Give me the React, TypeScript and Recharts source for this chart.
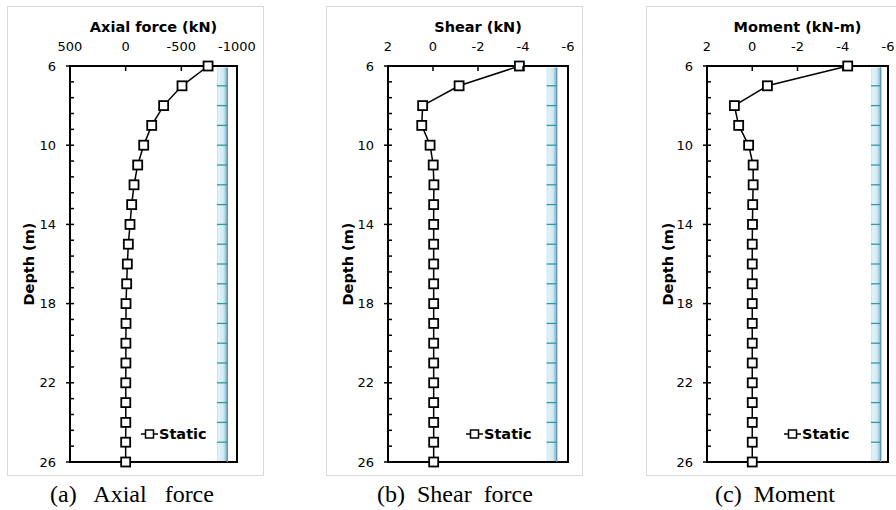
import React from 'react';
import { ComposedChart, Scatter, XAxis, YAxis, ReferenceArea, ReferenceLine, Legend } from 'recharts';

// ---------- data ----------
const depths = [6, 7, 8, 9, 10, 11, 12, 13, 14, 15, 16, 17, 18, 19, 20, 21, 22, 23, 24, 25, 26];
const axialForce = [-740, -506, -341, -234, -162, -108, -75, -54, -39, -24, -15, -9, -3, -3, -2, -2, -1, -1, -1, 0, 0];
const shearForce = [-3.84, -1.16, 0.46, 0.5, 0.13, -0.01, -0.04, -0.03, -0.03, -0.03, -0.03, -0.03, -0.03, -0.03, -0.03, -0.03, -0.03, -0.03, -0.03, -0.03, -0.03];
const moment = [-4.22, -0.67, 0.79, 0.6, 0.16, -0.04, -0.04, -0.02, -0.01, 0, 0, 0, 0, 0, 0, 0, 0, 0, 0, 0, 0];

const seriesName = 'Static';
const depthMajorTicks = [6, 10, 14, 18, 22, 26];
const depthMinorTicks = [6, 6.8, 7.6, 8.4, 9.2, 10, 10.8, 11.6, 12.4, 13.2, 14, 14.8, 15.6, 16.4, 17.2, 18, 18.8, 19.6, 20.4, 21.2, 22, 22.8, 23.6, 24.4, 25.2, 26];
const axialTicks = [500, 0, -500, -1000];
const shearTicks = [2, 0, -2, -4, -6];
const momentTicks = [2, 0, -2, -4, -6];
const pileJoints = [7, 8, 9, 10, 11, 12, 13, 14, 15, 16, 17, 18, 19, 20, 21, 22, 23, 24, 25];
const axialPile: [number, number] = [-820, -913];
const shearPile: [number, number] = [-5.05, -5.5];
const momentPile: [number, number] = [-5.25, -5.68];

const toRows = (vals: number[]) => depths.map((d, i) => ({ depth: d, value: vals[i] }));

// ---------- layout ----------
const FRAME_TOP = 6;
const FRAME_W = 257;
const FRAME_H = 470;
const X_AXIS_H = 60;
const BOTTOM_M = 14;
const SANS = '"DejaVu Sans", Verdana, sans-serif';

const SquareShape = (props: any) => {
  const { cx, cy } = props;
  if (cx == null || cy == null) return null;
  return <rect x={cx - 4.5} y={cy - 4.5} width={9} height={9} fill="#fff" stroke="#000" strokeWidth={1.8} />;
};

const YTick = (props: any) => {
  const { x, y, payload } = props;
  const v = payload.value;
  if (depthMajorTicks.includes(v)) {
    return (
      <g>
        <line x1={x - 4} x2={x + 4} y1={y} y2={y} stroke="#000" strokeWidth={1.5} />
        <text x={x - 14} y={y} dy="0.36em" textAnchor="end" fontFamily={SANS} fontSize={13} fill="#000">{v}</text>
      </g>
    );
  }
  return <line x1={x} x2={x + 4} y1={y} y2={y} stroke="#000" strokeWidth={1.5} />;
};

const XTick = (props: any) => {
  const { x, y, payload } = props;
  return (
    <g>
      <line x1={x} x2={x} y1={y} y2={y + 5} stroke="#000" strokeWidth={1.5} />
      <text x={x} y={y - 20} dy="0.36em" textAnchor="middle" fontFamily={SANS} fontSize={13} fill="#000">{payload.value}</text>
    </g>
  );
};

type PanelProps = {
  id: string;
  frameLeft: number;
  yAxisWidth: number;
  rightMargin: number;
  rows: { depth: number; value: number }[];
  xDomain: [number, number];
  xTicks: number[];
  pile: [number, number];
  title: string;
  legendLeft: number;
};

const Panel = ({ id, frameLeft, yAxisWidth, rightMargin, rows, xDomain, xTicks, pile, title, legendLeft }: PanelProps) => {
  const plotW = FRAME_W - yAxisWidth - rightMargin;
  const plotH = FRAME_H - X_AXIS_H - BOTTOM_M;
  const titleX = yAxisWidth + plotW / 2;
  const XTitle = () => (
    <text x={titleX} y={21} textAnchor="middle" dominantBaseline="central" fontFamily={SANS} fontWeight="bold" fontSize={14.5} fill="#000">{title}</text>
  );
  const YTitle = () => (
    <text x={0} y={0} transform={`translate(21.5, ${X_AXIS_H + plotH / 2}) rotate(-90)`} textAnchor="middle" dominantBaseline="central" fontFamily={SANS} fontWeight="bold" fontSize={14.5} fill="#000">Depth (m)</text>
  );
  const LegendContent = () => (
    <div style={{ display: 'flex', alignItems: 'center', fontFamily: SANS, fontWeight: 'bold', fontSize: 14.5, lineHeight: '18px', color: '#000', whiteSpace: 'nowrap' }}>
      <svg width={17} height={12} style={{ display: 'block' }}>
        <line x1={0} y1={6} x2={17} y2={6} stroke="#000" strokeWidth={1.5} />
        <rect x={4.5} y={2} width={8} height={8} fill="#fff" stroke="#000" strokeWidth={1.5} />
      </svg>
      <span style={{ marginLeft: 1 }}>{seriesName}</span>
    </div>
  );
  const gradId = `pileGrad-${id}`;
  return (
    <>
      <div style={{ position: 'absolute', left: frameLeft, top: FRAME_TOP, width: FRAME_W, height: FRAME_H, border: '1px solid #d9d9d9', boxSizing: 'border-box' }} />
      <div style={{ position: 'absolute', left: frameLeft, top: FRAME_TOP, width: FRAME_W, height: FRAME_H }}>
        <ComposedChart width={FRAME_W} height={FRAME_H} data={rows} margin={{ top: 0, left: 0, right: rightMargin, bottom: BOTTOM_M }}>
          <defs>
            <linearGradient id={gradId} x1="0" y1="0" x2="1" y2="0">
              <stop offset="0%" stopColor="#bfe3f0" />
              <stop offset="15%" stopColor="#dff1f8" />
              <stop offset="60%" stopColor="#d3ebf5" />
              <stop offset="80%" stopColor="#a8cfe2" />
              <stop offset="100%" stopColor="#7ea9c4" />
            </linearGradient>
          </defs>
          <XAxis
            xAxisId={0}
            type="number"
            dataKey="value"
            orientation="top"
            domain={xDomain}
            reversed
            ticks={xTicks}
            interval={0}
            height={X_AXIS_H}
            axisLine={false}
            tickLine={false}
            tickSize={0}
            tickMargin={0}
            tick={<XTick />}
            label={XTitle}
          />
          <YAxis
            yAxisId={0}
            type="number"
            dataKey="depth"
            domain={[6, 26]}
            reversed
            ticks={depthMinorTicks}
            interval={0}
            width={yAxisWidth}
            axisLine={false}
            tickLine={false}
            tickSize={0}
            tickMargin={0}
            tick={<YTick />}
            label={YTitle}
          />
          <ReferenceArea x1={pile[0]} x2={pile[1]} y1={6.08} y2={26} fill={`url(#${gradId})`} fillOpacity={1} stroke="none" />
          <ReferenceLine segment={[{ x: pile[1], y: 6.08 }, { x: pile[1], y: 26 }]} stroke="#5b8fae" strokeWidth={1.2} />
          {pileJoints.map((d) => (
            <ReferenceLine key={d} segment={[{ x: pile[0], y: d }, { x: pile[1], y: d }]} stroke="#2f9aa0" strokeWidth={1.3} />
          ))}
          <ReferenceArea x1={xDomain[1]} x2={xDomain[0]} y1={6} y2={26} fill="none" fillOpacity={0} stroke="#000" strokeWidth={2} />
          <Scatter
            name={seriesName}
            data={rows}
            dataKey="value"
            line={{ stroke: '#000', strokeWidth: 1.5 }}
            shape={SquareShape}
            isAnimationActive={false}
          />
          <Legend
            layout="vertical"
            align="center"
            verticalAlign="middle"
            content={LegendContent}
            wrapperStyle={{ left: legendLeft, top: 419, width: 'auto' }}
          />
        </ComposedChart>
      </div>
    </>
  );
};

const captionStyle: React.CSSProperties = {
  position: 'absolute',
  top: 480,
  fontFamily: '"Liberation Serif", "Times New Roman", serif',
  fontSize: 24,
  lineHeight: '28px',
  whiteSpace: 'pre',
  color: '#000',
};

export default function App() {
  return (
    <div style={{ position: 'absolute', left: 0, top: 0, width: 896, height: 510, overflow: 'hidden', background: '#fff' }}>
      <Panel id="a" frameLeft={7} yAxisWidth={63} rightMargin={27} rows={toRows(axialForce)} xDomain={[-1000, 500]} xTicks={axialTicks} pile={axialPile} title="Axial force (kN)" legendLeft={134} />
      <Panel id="b" frameLeft={326} yAxisWidth={62} rightMargin={15} rows={toRows(shearForce)} xDomain={[-6, 2]} xTicks={shearTicks} pile={shearPile} title="Shear (kN)" legendLeft={140} />
      <Panel id="c" frameLeft={646} yAxisWidth={61} rightMargin={15} rows={toRows(moment)} xDomain={[-6, 2]} xTicks={momentTicks} pile={momentPile} title="Moment (kN-m)" legendLeft={138} />
      <div style={{ ...captionStyle, left: 50 }}>{'(a)   Axial   force'}</div>
      <div style={{ ...captionStyle, left: 377 }}>{'(b)  Shear  force'}</div>
      <div style={{ ...captionStyle, left: 715 }}>{'(c)  Moment'}</div>
    </div>
  );
}
